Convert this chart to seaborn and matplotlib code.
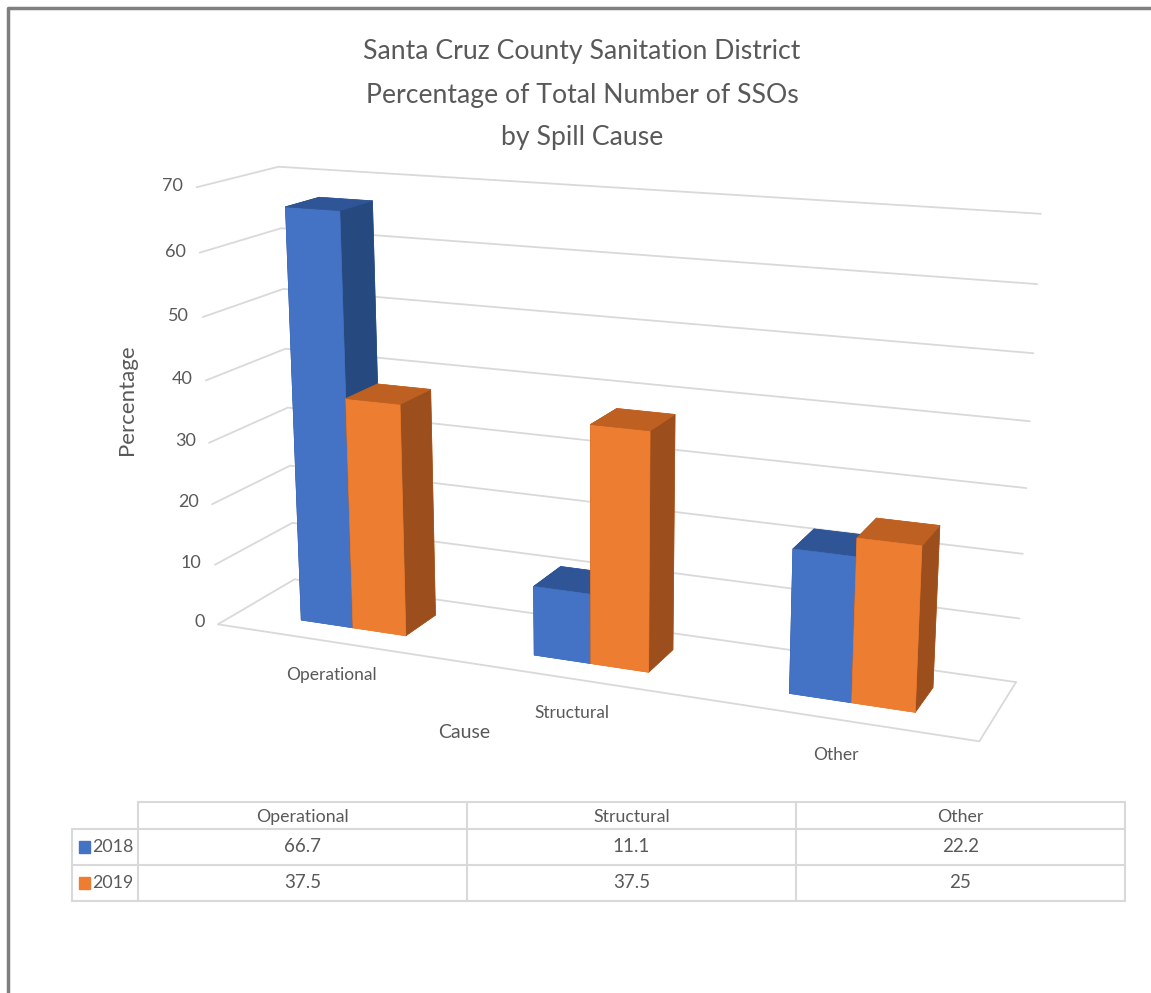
import matplotlib
matplotlib.use("Agg")
import matplotlib.pyplot as plt
from matplotlib.patches import Rectangle
from matplotlib.lines import Line2D
import numpy as np
import pandas as pd
import seaborn as sns

# Values from the chart's data table
causes = ["Operational", "Structural", "Other"]
years = ["2018", "2019"]
values_2018 = [66.7, 11.1, 22.2]
values_2019 = [37.5, 37.5, 25]
z_ticks = [0, 10, 20, 30, 40, 50, 60, 70]

title_lines = ["Santa Cruz County Sanitation District",
               "Percentage of Total Number of SSOs",
               "by Spill Cause"]

W, H = 1151, 993
GRID = "#d9d9d9"
TEXT = "#595959"

sns.set_theme(style="white")
plt.rcParams["font.family"] = ["Lato", "DejaVu Sans"]
palette = sns.color_palette(["#4472C4", "#ED7D31"])
tops = ["#2F5597", "#BD6022"]
sides = ["#264A80", "#9C4F1D"]

df = pd.DataFrame({"2018": values_2018, "2019": values_2019}, index=causes)

fig = plt.figure(figsize=(W / 100, H / 100), dpi=100, facecolor="white")


def px_rect(left, top, width, height):
    # pixel box to figure fraction
    return [left / W, 1 - (top + height) / H, width / W, height / H]


# 3D chart
ax = fig.add_axes(px_rect(125, -20, 930, 930), projection="3d", computed_zorder=False)
ax.set_proj_type("persp", focal_length=0.43)
ax.view_init(elev=15, azim=-67.5)
ax.set_box_aspect((1, 0.195, 0.57))
ax.set_xlim(0, 3)
ax.set_ylim(0, 1)
ax.set_zlim(0, 70)
ax.set_axis_off()
ax.patch.set_alpha(0)

for z in z_ticks:
    ax.plot([0, 0, 3], [0, 1, 1], [z, z, z], color=GRID, lw=1.3, zorder=1)
    ax.text(-0.06, 0, z, str(z), ha="right", va="center", fontsize=13, color=TEXT)
ax.plot([0, 3, 3], [0, 0, 1], [0, 0, 0], color=GRID, lw=1.3, zorder=1)

bar_w = 0.23
bar_d = 0.43
order = 2
for i, cause in enumerate(causes):
    for j, year in enumerate(years):
        x0 = i + 0.505 - bar_w + j * bar_w
        colors = [palette[j], tops[j], palette[j], palette[j], sides[j], sides[j]]
        ax.bar3d(x0, 0.5 - bar_d / 2, 0, bar_w, bar_d, df.loc[cause, year],
                 color=colors, edgecolors=colors, linewidth=0.5, shade=False, zorder=order)
        order += 1
    ax.text(i + 0.5, 0, -5.5, cause, ha="center", va="center", fontsize=12.5, color=TEXT)

fig.text(464 / W, 1 - 732 / H, "Cause", ha="center", va="center", fontsize=14, color=TEXT)
fig.text(127 / W, 1 - 400 / H, "Percentage", rotation=90, ha="center", va="center",
         fontsize=16, color=TEXT)

for line, y in zip(title_lines, [52, 95, 138]):
    fig.text(582 / W, 1 - y / H, line, ha="center", va="center", fontsize=19.2, color=TEXT)

# Data table below the chart
tax = fig.add_axes(px_rect(138, 829, 987, 72))
sns.heatmap(df.T, ax=tax, annot=True, fmt="g", cbar=False, cmap=["white"],
            linewidths=0, annot_kws={"fontsize": 13.5, "color": TEXT})
tax.xaxis.tick_top()
tax.tick_params(axis="both", length=0, labelsize=12.8, labelcolor=TEXT)
tax.tick_params(axis="x", pad=3)
tax.tick_params(axis="y", pad=3, labelrotation=0)
tax.set_xlabel("")
tax.set_ylabel("")

left = -0.2
top = -0.75
border = dict(color=GRID, lw=1.5, clip_on=False)
tax.plot([0, 3], [top, top], **border)
tax.plot([left, 3], [2, 2], **border)
tax.plot([left, 3], [0, 0], **border)
tax.plot([left, 3], [1, 1], **border)
tax.plot([left, left], [0, 2], **border)
for x in range(4):
    tax.plot([x, x], [top, 2], **border)
for j in range(len(years)):
    tax.add_patch(Rectangle((-0.178, j + 0.33), 0.033, 0.33, color=palette[j], clip_on=False))

# Gray frame along the top and left edges
fig.add_artist(Line2D([8 / W, 8 / W, 1], [0, 1 - 8 / H, 1 - 8 / H], color="#7f7f7f", lw=2.5))

fig.savefig("out.png", dpi=100)
